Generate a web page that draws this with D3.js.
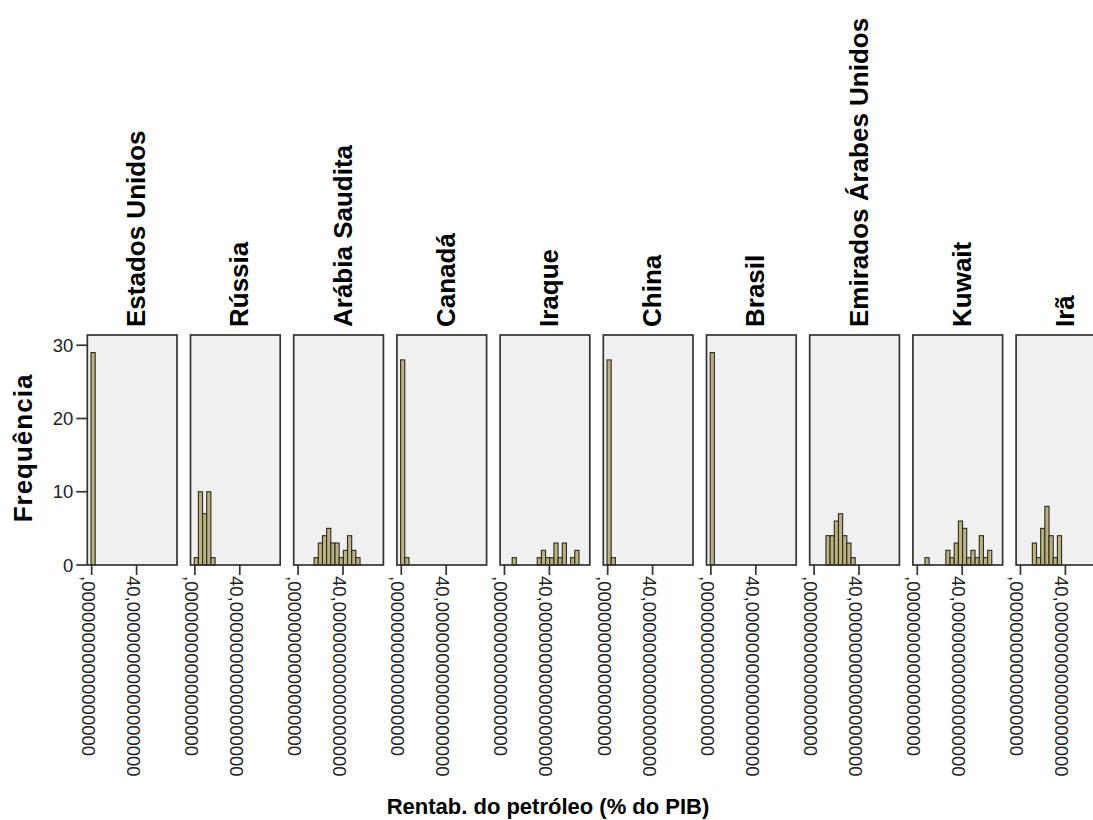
<!DOCTYPE html>
<html>
<head>
<meta charset="utf-8">
<script src="https://cdn.jsdelivr.net/npm/d3@7"></script>
<style>
  html, body { margin: 0; padding: 0; background: #fff; }
  svg { display: block; }
</style>
</head>
<body>
<svg id="chart" width="1093" height="820"></svg>
<script>
// Panels (one histogram per country)
const countries = ["Estados Unidos", "Rússia", "Arábia Saudita", "Canadá", "Iraque",
                   "China", "Brasil", "Emirados Árabes Unidos", "Kuwait", "Irã"];

// Histogram bins: common width and origin (in % of GDP)
const binWidth = 3.72;
const binOrigin = -0.6;

// Index of the first bin listed for each country
const firstBin = [0, 0, 4, 0, 2, 0, 0, 3, 2, 3];

// Frequencies per consecutive bin, starting at firstBin
const freqEstadosUnidos = [29];
const freqRussia = [1, 10, 7, 10, 1];
const freqArabiaSaudita = [1, 3, 4, 5, 3, 3, 1, 2, 4, 2, 1];
const freqCanada = [28, 1];
const freqIraque = [1, 0, 0, 0, 0, 0, 1, 2, 1, 1, 3, 1, 3, 0, 1, 2];
const freqChina = [28, 1];
const freqBrasil = [29];
const freqEmirados = [4, 4, 6, 7, 4, 3, 1];
const freqKuwait = [1, 0, 0, 0, 0, 2, 1, 3, 6, 5, 1, 2, 1, 4, 1, 2];
const freqIra = [3, 1, 5, 8, 4, 1, 4];

const freqs = [freqEstadosUnidos, freqRussia, freqArabiaSaudita, freqCanada, freqIraque,
               freqChina, freqBrasil, freqEmirados, freqKuwait, freqIra];

// Axis ticks and labels
const yTicks = [0, 10, 20, 30];
const xTicks = [0, 40];
const xTickLabels = [",00000000000000000", "40,00000000000000000"];
const yTitle = "Frequência";
const xTitle = "Rentab. do petróleo (% do PIB)";

const svg = d3.select("#chart");
const font = "'Liberation Sans', Arial, sans-serif";

// Layout
const plotTop = 335, plotBottom = 565;
const panelStep = 103.2, panelW = 89.7, firstLeft = 87.3;

const panel = d3.scaleBand()
  .domain(countries)
  .range([firstLeft, firstLeft + countries.length * panelStep - (panelStep - panelW)])
  .paddingInner((panelStep - panelW) / panelStep)
  .paddingOuter(0);

const x = d3.scaleLinear().domain([-3.9, 76.0]).range([0, panel.bandwidth()]);
const y = d3.scaleLinear().domain([0, 31.4]).range([plotBottom, plotTop]);

// Build bar table
const bars = [];
countries.forEach((c, i) => {
  freqs[i].forEach((n, j) => {
    if (n > 0) {
      const k = firstBin[i] + j;
      bars.push({ country: c, x0: binOrigin + k * binWidth, x1: binOrigin + (k + 1) * binWidth, n });
    }
  });
});

const panels = svg.selectAll("g.panel")
  .data(countries)
  .join("g")
  .attr("class", "panel")
  .attr("transform", d => `translate(${panel(d)},0)`);

// Panel background
panels.append("rect")
  .attr("x", 0).attr("y", plotTop)
  .attr("width", panel.bandwidth()).attr("height", plotBottom - plotTop)
  .attr("fill", "#f0f0f0");

// Bars
panels.each(function (c) {
  d3.select(this).selectAll("rect.bar")
    .data(bars.filter(b => b.country === c))
    .join("rect")
    .attr("class", "bar")
    .attr("x", d => x(d.x0))
    .attr("width", d => x(d.x1) - x(d.x0))
    .attr("y", d => y(d.n))
    .attr("height", d => y(0) - y(d.n))
    .attr("fill", "#bab380")
    .attr("stroke", "#2a2a22")
    .attr("stroke-width", 1.1);
});

// Panel frame
panels.append("rect")
  .attr("x", 0).attr("y", plotTop)
  .attr("width", panel.bandwidth()).attr("height", plotBottom - plotTop)
  .attr("fill", "none")
  .attr("stroke", "#333")
  .attr("stroke-width", 1.7);

// X axis ticks and rotated labels per panel
panels.each(function () {
  const g = d3.select(this);
  xTicks.forEach((t, i) => {
    const tx = x(t);
    g.append("line")
      .attr("x1", tx).attr("x2", tx)
      .attr("y1", plotBottom).attr("y2", plotBottom + 10)
      .attr("stroke", "#333").attr("stroke-width", 1.7);
    g.append("text")
      .attr("transform", `translate(${tx},${plotBottom + 10}) rotate(90)`)
      .attr("x", 1).attr("y", 10)
      .attr("font-family", font).attr("font-size", 18.5)
      .attr("fill", "#222")
      .text(xTickLabels[i]);
  });
});

// Panel titles
panels.append("text")
  .attr("transform", d => `translate(${panel.bandwidth() / 2 + 13},${plotTop - 8}) rotate(-90)`)
  .attr("font-family", font).attr("font-size", 26).attr("font-weight", "bold")
  .attr("fill", "#000")
  .text(d => d);

// Y axis (left of the first panel)
const yAxisG = svg.append("g").attr("transform", `translate(${panel(countries[0])},0)`);
yTicks.forEach(t => {
  yAxisG.append("line")
    .attr("x1", -11).attr("x2", 0)
    .attr("y1", y(t)).attr("y2", y(t))
    .attr("stroke", "#333").attr("stroke-width", 1.7);
  yAxisG.append("text")
    .attr("x", -14).attr("y", y(t))
    .attr("dy", "0.36em")
    .attr("text-anchor", "end")
    .attr("font-family", font).attr("font-size", 18.5)
    .attr("fill", "#222")
    .text(t);
});

// Axis titles
svg.append("text")
  .attr("transform", `translate(32,${(plotTop + plotBottom) / 2 - 2}) rotate(-90)`)
  .attr("text-anchor", "middle")
  .attr("font-family", font).attr("font-size", 26).attr("font-weight", "bold")
  .attr("letter-spacing", 1)
  .text(yTitle);

svg.append("text")
  .attr("x", 548).attr("y", 814)
  .attr("text-anchor", "middle")
  .attr("font-family", font).attr("font-size", 22).attr("font-weight", "bold")
  .text(xTitle);
</script>
</body>
</html>
